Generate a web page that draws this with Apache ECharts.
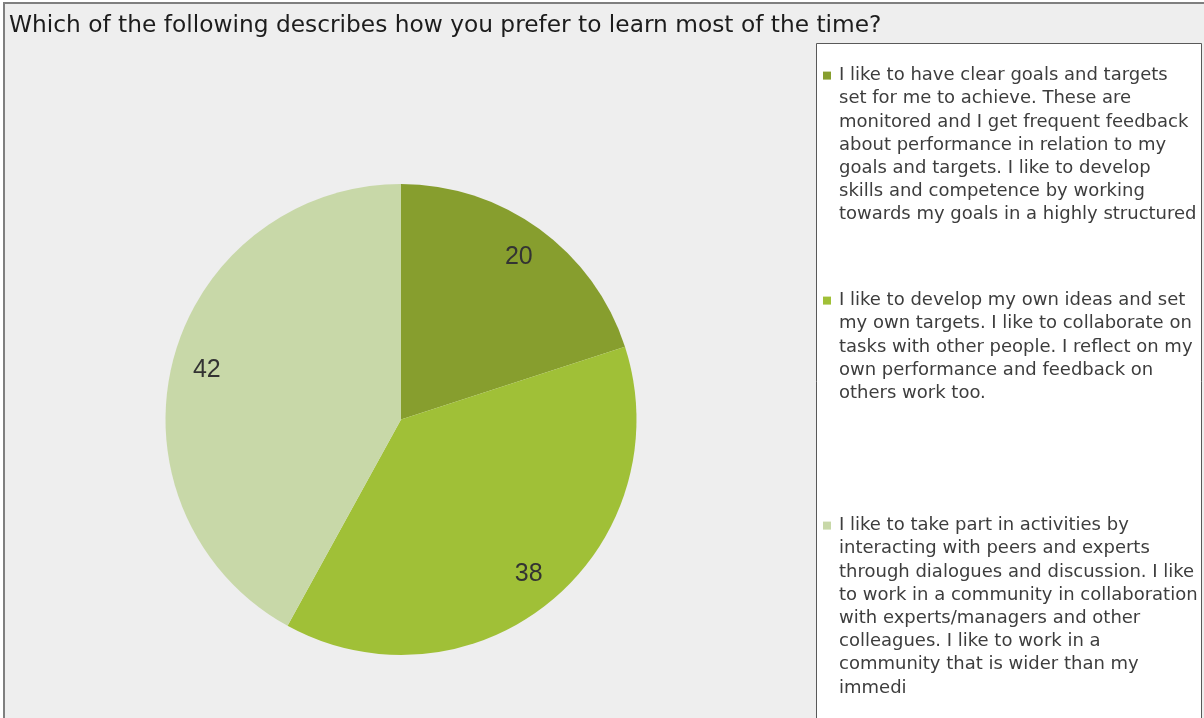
<!DOCTYPE html>
<html>
<head>
<meta charset="utf-8">
<title>Learning preferences</title>
<script src="https://cdn.jsdelivr.net/npm/echarts@6/dist/echarts.min.js"></script>
<style>
  html, body { margin: 0; padding: 0; background: #ffffff; }
  #chart { width: 1204px; height: 718px; }
</style>
</head>
<body>
<div id="chart"></div>
<script>
// Survey question and answer options
const questionTitle = 'Which of the following describes how you prefer to learn most of the time?';
const categories = [
  'I like to have clear goals and targets set for me to achieve. These are monitored and I get frequent feedback about performance in relation to my goals and targets. I like to develop skills and competence by working towards my goals in a highly structured',
  'I like to develop my own ideas and set my own targets. I like to collaborate on tasks with other people. I reflect on my own performance and feedback on others work too.',
  'I like to take part in activities by interacting with peers and experts through dialogues and discussion. I like to work in a community in collaboration with experts/managers and other colleagues. I like to work in a community that is wider than my immedi'
];
// Responses per option
const responses = [20, 38, 42];
const sliceColors = ['#879e2e', '#a0c037', '#c8d8a8'];

// Pie geometry
const pieCenter = [401, 419.5];
const pieRadius = 235.5;
const labelRadiusRatio = 0.83;   // label distance from centre, as a share of the radius

// Legend text settings
const legendFont = '"DejaVu Sans"';
const legendFontSize = 18;
const legendLineHeight = 23.2;
const legendWrapWidth = 359.5;
const legendSlotTop = 64;
const legendSlotStep = 225;

// Greedy word wrap using the same font the legend renders with
const measureCtx = document.createElement('canvas').getContext('2d');
measureCtx.font = legendFontSize + 'px ' + legendFont;
function wrapWords(text, maxWidth) {
  const words = text.split(' ');
  const lines = [];
  let cur = '';
  words.forEach(w => {
    const test = cur ? cur + ' ' + w : w;
    if (cur && measureCtx.measureText(test).width > maxWidth) {
      lines.push(cur);
      cur = w;
    } else {
      cur = test;
    }
  });
  if (cur) lines.push(cur);
  return lines;
}

// Rich legend text: coloured square on the first line, hanging indent for the rest
function legendRichText(index) {
  const lines = wrapWords(categories[index], legendWrapWidth);
  return lines.map((ln, i) =>
    (i === 0 ? '{m' + index + '|}{g|}' : '{s|}') + '{t|' + ln + '}'
  ).join('\n');
}

const richStyles = {
  g: { width: 8, height: legendLineHeight, lineHeight: legendLineHeight },
  s: { width: 16, height: legendLineHeight, lineHeight: legendLineHeight },
  t: {
    fontFamily: legendFont, fontSize: legendFontSize,
    lineHeight: legendLineHeight, color: '#3d3d3d'
  }
};
sliceColors.forEach((c, i) => {
  richStyles['m' + i] = {
    width: 8, height: 8, backgroundColor: c, verticalAlign: 'middle',
    lineHeight: legendLineHeight
  };
});

const legends = categories.map((name, i) => ({
  data: [name],
  orient: 'vertical',
  left: 818,
  top: legendSlotTop + i * legendSlotStep,
  padding: 0,
  icon: 'none',
  itemWidth: 0,
  itemHeight: 2,
  selectedMode: false,
  formatter: () => legendRichText(i),
  textStyle: { rich: richStyles }
}));

const chart = echarts.init(document.getElementById('chart'), null, { renderer: 'canvas' });

chart.setOption({
  backgroundColor: '#ffffff',
  animation: false,
  color: sliceColors,
  title: {
    text: questionTitle,
    left: 9,
    top: 14,
    padding: 0,
    textStyle: {
      fontFamily: '"DejaVu Sans"',
      fontSize: 23.3,
      fontWeight: 'normal',
      color: '#1c1c1c'
    }
  },
  graphic: [
    {
      type: 'rect',
      z: -10,
      silent: true,
      shape: { x: 4, y: 3, width: 1400, height: 900 },
      style: { fill: '#eeeeee', stroke: '#7f7f7f', lineWidth: 2 }
    },
    {
      type: 'rect',
      z: -5,
      silent: true,
      shape: { x: 816.5, y: 43.5, width: 385, height: 900 },
      style: { fill: '#ffffff', stroke: '#595959', lineWidth: 1 }
    }
  ],
  legend: legends,
  series: [
    {
      type: 'pie',
      center: pieCenter,
      radius: [0, pieRadius],
      startAngle: 90,
      clockwise: true,
      avoidLabelOverlap: false,
      silent: true,
      itemStyle: { borderWidth: 0 },
      label: {
        show: true,
        position: 'inside',
        formatter: '{c}',
        fontFamily: '"Liberation Sans", Arial, sans-serif',
        fontSize: 25,
        color: '#333333'
      },
      labelLine: { show: false },
      // push each label outward along its slice's mid-angle
      labelLayout: function (p) {
        const r = p.labelRect;
        const lx = r.x + r.width / 2;
        const ly = r.y + r.height / 2;
        const k = labelRadiusRatio * 2 - 1;
        return { dx: (lx - pieCenter[0]) * k, dy: (ly - pieCenter[1]) * k };
      },
      data: categories.map((name, i) => ({ name: name, value: responses[i] }))
    }
  ]
});
</script>
</body>
</html>
